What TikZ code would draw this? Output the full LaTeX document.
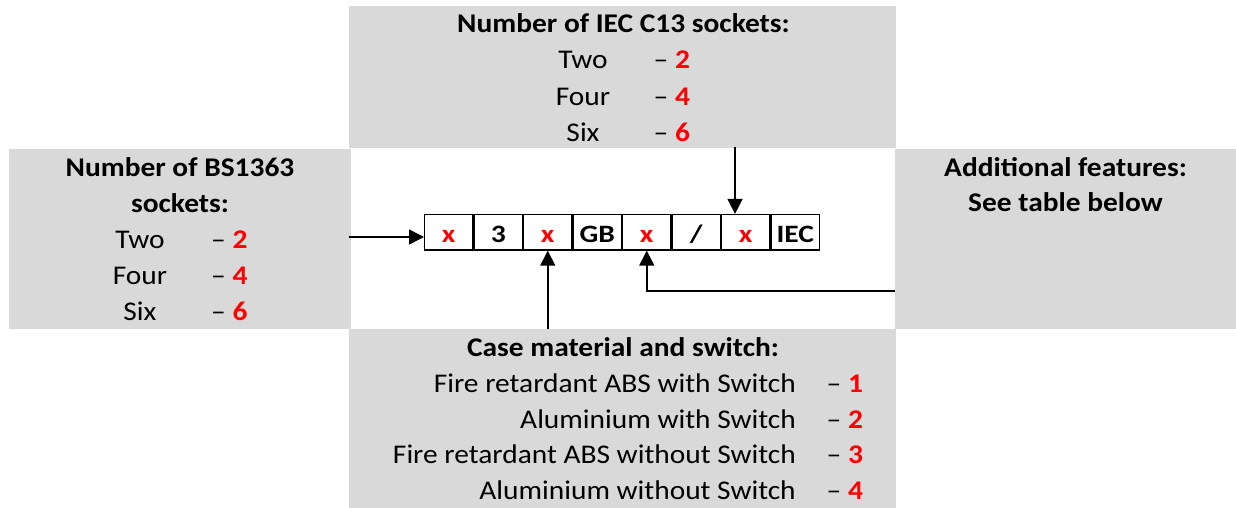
\documentclass[tikz,border=0pt]{standalone}
\usepackage{fontspec}
\setmainfont{Carlito}[FakeStretch=1.09]
\newfontfamily\cellfont{Carlito}[FakeStretch=1.18]
\usetikzlibrary{arrows.meta}
\definecolor{boxgray}{HTML}{D9D9D9}
\definecolor{numred}{HTML}{FF0000}
\tikzset{
  graybox/.style={fill=boxgray, draw=none, inner sep=0pt, anchor=north west},
  txt/.style={inner sep=0pt, font=\fontsize{27}{32}\selectfont},
  btxt/.style={txt, font=\fontsize{27}{32}\selectfont\bfseries},
  cell/.style={draw, line width=1.3pt, minimum width=48.2pt, minimum height=35.5pt, inner sep=0pt,
    text height=20pt, text depth=0pt, anchor=west, font=\cellfont\fontsize{25}{30}\selectfont\bfseries},
  arr/.style={line width=1.5pt, -{Triangle[length=15pt,width=15pt]}}
}
\newcommand{\rn}[1]{\textcolor{numred}{\bfseries #1}}
\begin{document}
\begin{tikzpicture}[x=1pt,y=-1pt]
\useasboundingbox (0,0) rectangle (1236,508);
% gray panels
\node[graybox, minimum width=547pt, minimum height=142pt] (top) at (349,6) {};
\node[graybox, minimum width=342pt, minimum height=180pt] (left) at (9,149) {};
\node[graybox, minimum width=341pt, minimum height=180pt] (right) at (895,149) {};
\node[graybox, minimum width=547pt, minimum height=179pt] (bot) at (349,329) {};
% top texts
\node[btxt, anchor=base] (ttitle) at (623.5,32.5) {Number of IEC C13 sockets:};
\node[txt, anchor=base] (tw1) at (583,69) {Two};
\node[txt, anchor=base] (tw2) at (583,105.5) {Four};
\node[txt, anchor=base] (tw3) at (583,141) {Six};
\node[txt, anchor=base west] (td1) at (653.5,69) {– \rn{2}};
\node[txt, anchor=base west] (td2) at (653.5,105.5) {– \rn{4}};
\node[txt, anchor=base west] (td3) at (653.5,141) {– \rn{6}};
% left texts
\node[btxt, anchor=base] (ltitle1) at (180,176) {Number of BS1363};
\node[btxt, anchor=base] (ltitle2) at (180,212) {sockets:};
\node[txt, anchor=base] (lw1) at (140,248) {Two};
\node[txt, anchor=base] (lw2) at (140,284) {Four};
\node[txt, anchor=base] (lw3) at (140,320) {Six};
\node[txt, anchor=base west] (ld1) at (211,248) {– \rn{2}};
\node[txt, anchor=base west] (ld2) at (211,284) {– \rn{4}};
\node[txt, anchor=base west] (ld3) at (211,320) {– \rn{6}};
% right texts
\node[btxt, anchor=base] (rtitle1) at (1065.5,176.7) {Additional features:};
\node[btxt, anchor=base] (rtitle2) at (1065.5,211.7) {See table below};
% bottom texts
\node[btxt, anchor=base] (btitle) at (623,356.7) {Case material and switch:};
\node[txt, anchor=base east] (bw1) at (796,392.7) {Fire retardant ABS with Switch};
\node[txt, anchor=base east] (bw2) at (796,428) {Aluminium with Switch};
\node[txt, anchor=base east] (bw3) at (796,463.5) {Fire retardant ABS without Switch};
\node[txt, anchor=base east] (bw4) at (796,499) {Aluminium without Switch};
\node[txt, anchor=base west] (bd1) at (826.5,392.7) {– \rn{1}};
\node[txt, anchor=base west] (bd2) at (826.5,428) {– \rn{2}};
\node[txt, anchor=base west] (bd3) at (826.5,463.5) {– \rn{3}};
\node[txt, anchor=base west] (bd4) at (826.5,499) {– \rn{4}};
% code cells
\node[cell, text=numred] (c1) at (424,232.3) {x};
\node[cell] (c2) at (c1.east) {3};
\node[cell, text=numred] (c3) at (c2.east) {x};
\node[cell] (c4) at (c3.east) {GB};
\node[cell, text=numred] (c5) at (c4.east) {x};
\node[cell] (c6) at (c5.east) {/};
\node[cell, text=numred] (c7) at (c6.east) {x};
\node[cell] (c8) at (c7.east) {IEC};
% connectors
\coordinate (la) at (349,237);
\draw[arr] (la) -- (la -| c1.west);
\coordinate (ta) at (735,147);
\draw[arr] (ta) -- (ta |- c7.north);
\draw[arr] (c3 |- bot.north) -- (c3.south);
\coordinate (ra) at (895,291);
\draw[arr] (ra) -- (ra -| c5.south) -- (c5.south);
\end{tikzpicture}
\end{document}
